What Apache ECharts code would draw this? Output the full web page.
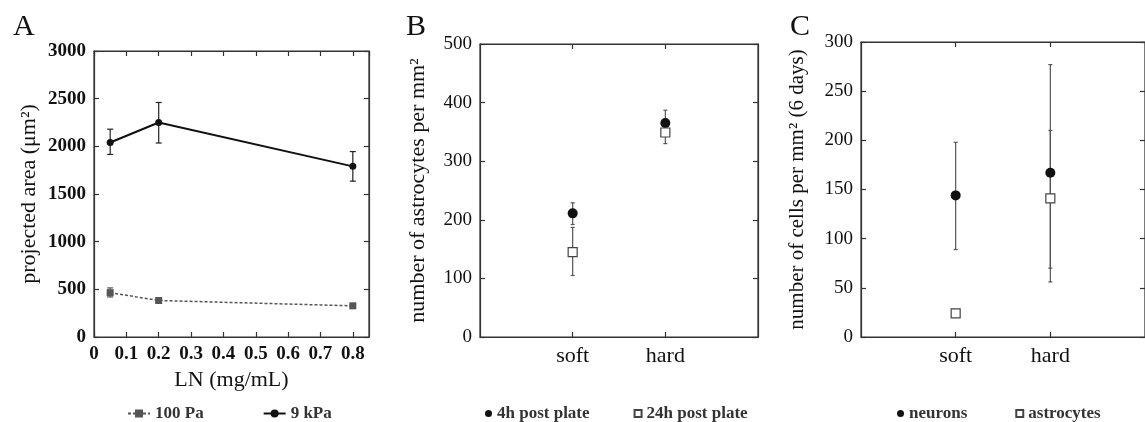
<!DOCTYPE html>
<html>
<head>
<meta charset="utf-8">
<script src="https://cdn.jsdelivr.net/npm/echarts@6/dist/echarts.min.js"></script>
<style>
  html, body { margin: 0; padding: 0; background: #fff; }
  #chart { width: 1145px; height: 422px; }
</style>
</head>
<body>
<div id="chart"></div>
<script>
// panel A: projected area vs laminin concentration
const lnConc = [0.05, 0.2, 0.8];
const area9kPa = [2040, 2250, 1790];
const area9kPaLo = [1915, 2035, 1635];
const area9kPaHi = [2180, 2460, 1945];
const area100Pa = [465, 383, 327];
const area100PaLo = [420, 372, 316];
const area100PaHi = [515, 394, 338];

// panels B and C: soft vs hard substrates
const stiffness = ['soft', 'hard'];
const astro4h = [211, 365];
const astro4hLo = [192, 345];
const astro4hHi = [229, 387];
const astro24h = [145, 349];
const astro24hLo = [105, 330];
const astro24hHi = [187, 366];
const neurons6d = [144, 167];
const neurons6dLo = [89, 56];
const neurons6dHi = [198, 277];
const astro6d = [24, 141];
const astro6dLo = [24, 70];
const astro6dHi = [24, 210];

const serif = 'Liberation Serif';
const ink = '#111';
const catPos = stiffness.map((s, i) => i + 1); // soft at 1, hard at 2

const pairs = (xs, ys) => xs.map((x, i) => [x, ys[i]]);
const bars = (xs, lo, hi) => xs.map((x, i) => [x, lo[i], hi[i]]);

function errRender(color, cap) {
  return function (params, api) {
    const x = api.value(0);
    const p1 = api.coord([x, api.value(1)]);
    const p2 = api.coord([x, api.value(2)]);
    const st = { stroke: color, lineWidth: 1.2 };
    return {
      type: 'group',
      children: [
        { type: 'line', shape: { x1: p1[0], y1: p1[1], x2: p2[0], y2: p2[1] }, style: st },
        { type: 'line', shape: { x1: p1[0] - cap, y1: p1[1], x2: p1[0] + cap, y2: p1[1] }, style: st },
        { type: 'line', shape: { x1: p2[0] - cap, y1: p2[1], x2: p2[0] + cap, y2: p2[1] }, style: st }
      ]
    };
  };
}

function errSeries(data, axis, color, cap) {
  return {
    type: 'custom',
    xAxisIndex: axis, yAxisIndex: axis,
    renderItem: errRender(color, cap),
    encode: { x: 0, y: [1, 2] },
    data,
    z: 1,
    silent: true
  };
}

const grids = [
  { left: 94, top: 51, width: 275, height: 286 },
  { left: 480, top: 44, width: 278, height: 293 },
  { left: 861, top: 42, width: 290, height: 295 }
].map(g => ({ ...g, show: true, borderColor: '#333', borderWidth: 1.2, backgroundColor: 'transparent' }));

const tick = { show: true, inside: true, length: 5, lineStyle: { color: '#333', width: 1.2 } };
const axLine = { show: true, onZero: false, lineStyle: { color: '#333', width: 1.2 } };
const noLine = { show: false };

function catLabel(v) {
  const i = catPos.indexOf(Math.round(v));
  return i >= 0 ? stiffness[i] : '';
}

const xAxis = [
  // A bottom
  {
    gridIndex: 0, type: 'value', min: 0, max: 0.85, interval: 0.1,
    axisLine: axLine, axisTick: tick, splitLine: noLine,
    name: 'LN (mg/mL)', nameLocation: 'middle', nameGap: 30,
    nameTextStyle: { fontFamily: serif, fontSize: 22, color: ink },
    axisLabel: {
      fontFamily: serif, fontSize: 19, fontWeight: 'bold', color: ink, margin: 8,
      showMaxLabel: false,
      formatter: v => (Math.abs(v * 10 - Math.round(v * 10)) < 1e-6 ? (v === 0 ? '0' : v.toFixed(1)) : '')
    }
  },
  // A top
  {
    gridIndex: 0, type: 'value', position: 'top', min: 0, max: 0.85, interval: 0.1,
    axisLine: axLine, axisTick: tick, axisLabel: { show: false }, splitLine: noLine
  },
  // B bottom
  {
    gridIndex: 1, type: 'value', min: 0, max: 3,
    axisLine: axLine, splitLine: noLine,
    axisTick: { ...tick, customValues: catPos },
    axisLabel: { customValues: catPos, formatter: catLabel, fontFamily: serif, fontSize: 22, color: ink, margin: 8 }
  },
  // B top
  {
    gridIndex: 1, type: 'value', position: 'top', min: 0, max: 3,
    axisLine: axLine, splitLine: noLine, axisLabel: { show: false },
    axisTick: { ...tick, customValues: catPos }
  },
  // C bottom
  {
    gridIndex: 2, type: 'value', min: 0, max: 3,
    axisLine: axLine, splitLine: noLine,
    axisTick: { ...tick, customValues: catPos },
    axisLabel: { customValues: catPos, formatter: catLabel, fontFamily: serif, fontSize: 22, color: ink, margin: 8 }
  },
  // C top
  {
    gridIndex: 2, type: 'value', position: 'top', min: 0, max: 3,
    axisLine: axLine, splitLine: noLine, axisLabel: { show: false },
    axisTick: { ...tick, customValues: catPos }
  }
];

function leftY(grid, max, interval, name, gap, bold, nameSize) {
  return {
    gridIndex: grid, type: 'value', min: 0, max, interval,
    axisLine: axLine, axisTick: tick, splitLine: noLine,
    name, nameLocation: 'middle', nameGap: gap,
    nameTextStyle: { fontFamily: serif, fontSize: nameSize, color: ink },
    axisLabel: {
      fontFamily: serif, fontSize: 19, fontWeight: bold ? 'bold' : 'normal', color: ink, margin: 8,
      formatter: v => String(v)
    }
  };
}
function rightY(grid, max, interval) {
  return {
    gridIndex: grid, type: 'value', position: 'right', min: 0, max, interval,
    axisLine: axLine, axisTick: tick, axisLabel: { show: false }, splitLine: noLine
  };
}

const yAxis = [
  leftY(0, 3000, 500, 'projected area (μm²)', 54, true, 22),
  rightY(0, 3000, 500),
  leftY(1, 500, 100, 'number of astrocytes per mm²', 51, false, 22),
  rightY(1, 500, 100),
  leftY(2, 300, 50, 'number of cells per mm² (6 days)', 53, false, 21),
  rightY(2, 300, 50)
];

const series = [
  // panel A
  errSeries(bars(lnConc, area100PaLo, area100PaHi), 0, '#555', 3),
  errSeries(bars(lnConc, area9kPaLo, area9kPaHi), 0, '#222', 3),
  {
    name: '100 Pa', type: 'line', xAxisIndex: 0, yAxisIndex: 0,
    data: pairs(lnConc, area100Pa),
    symbol: 'rect', symbolSize: 7,
    itemStyle: { color: '#555', opacity: 1 },
    lineStyle: { color: '#555', width: 1.5, type: [3, 2] },
    z: 3
  },
  {
    name: '9 kPa', type: 'line', xAxisIndex: 0, yAxisIndex: 0,
    data: pairs(lnConc, area9kPa),
    symbol: 'circle', symbolSize: 7,
    itemStyle: { color: ink, opacity: 1 },
    lineStyle: { color: ink, width: 2 },
    z: 3
  },
  // panel B
  errSeries(bars(catPos, astro24hLo, astro24hHi), 2, '#555', 2),
  errSeries(bars(catPos, astro4hLo, astro4hHi), 2, '#555', 2),
  {
    name: '4h post plate', type: 'scatter', xAxisIndex: 2, yAxisIndex: 2,
    data: pairs(catPos, astro4h), symbol: 'circle', symbolSize: 10,
    itemStyle: { color: ink, opacity: 1 }, z: 3
  },
  {
    name: '24h post plate', type: 'scatter', xAxisIndex: 2, yAxisIndex: 2,
    data: pairs(catPos, astro24h), symbol: 'rect', symbolSize: 9,
    itemStyle: { color: '#fff', borderColor: '#444', borderWidth: 1.2, opacity: 1 }, z: 4
  },
  // panel C
  errSeries(bars(catPos, neurons6dLo, neurons6dHi), 4, '#555', 2),
  errSeries(bars(catPos, astro6dLo, astro6dHi), 4, '#555', 2),
  {
    name: 'neurons', type: 'scatter', xAxisIndex: 4, yAxisIndex: 4,
    data: pairs(catPos, neurons6d), symbol: 'circle', symbolSize: 10,
    itemStyle: { color: ink, opacity: 1 }, z: 3
  },
  {
    name: 'astrocytes', type: 'scatter', xAxisIndex: 4, yAxisIndex: 4,
    data: pairs(catPos, astro6d), symbol: 'rect', symbolSize: 9,
    itemStyle: { color: '#fff', borderColor: '#444', borderWidth: 1.2, opacity: 1 }, z: 4
  }
];

const legendText = { fontFamily: serif, fontSize: 17, fontWeight: 'bold', color: '#333' };

const chart = echarts.init(document.getElementById('chart'), null, { renderer: 'canvas' });
chart.setOption({
  animation: false,
  backgroundColor: '#fff',
  title: [
    { text: 'A', left: 8, top: 7, textStyle: { fontFamily: serif, fontSize: 30, fontWeight: 'normal', color: ink } },
    { text: 'B', left: 401, top: 7, textStyle: { fontFamily: serif, fontSize: 30, fontWeight: 'normal', color: ink } },
    { text: 'C', left: 785, top: 7, textStyle: { fontFamily: serif, fontSize: 30, fontWeight: 'normal', color: ink } }
  ],
  grid: grids,
  xAxis,
  yAxis,
  legend: [
    { data: ['100 Pa', '9 kPa'], left: 122, top: 400, itemWidth: 22, itemHeight: 10, itemGap: 59, textStyle: legendText },
    { data: ['4h post plate', '24h post plate'], left: 480, top: 400, itemWidth: 7, itemHeight: 7, itemGap: 44, textStyle: legendText },
    { data: ['neurons', 'astrocytes'], left: 892, top: 400, itemWidth: 7, itemHeight: 7, itemGap: 48, textStyle: legendText }
  ],
  series
});
</script>
</body>
</html>
